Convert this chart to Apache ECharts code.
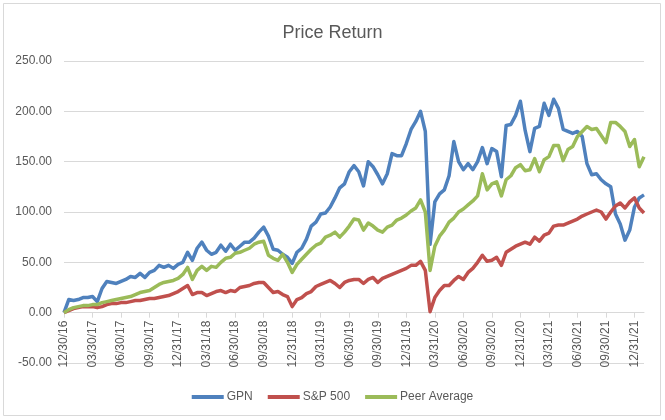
<!DOCTYPE html>
<html><head><meta charset="utf-8">
<script src="https://cdn.jsdelivr.net/npm/echarts@6/dist/echarts.min.js"></script>
<style>html,body{margin:0;padding:0;background:#fff}#c{width:665px;height:420px}</style>
</head><body><div id="c"></div>
<script>
const categories = [
"12/30/16",
"01/15/17","01/31/17","02/15/17","02/28/17","03/15/17","03/30/17","04/15/17","04/30/17","05/15/17","05/31/17","06/15/17","06/30/17",
"07/15/17","07/31/17","08/15/17","08/31/17","09/15/17","09/30/17","10/15/17","10/31/17","11/15/17","11/30/17","12/15/17","12/31/17",
"01/15/18","01/31/18","02/15/18","02/28/18","03/15/18","03/31/18","04/15/18","04/30/18","05/15/18","05/31/18","06/15/18","06/30/18",
"07/15/18","07/31/18","08/15/18","08/31/18","09/15/18","09/30/18","10/15/18","10/31/18","11/15/18","11/30/18","12/15/18","12/31/18",
"01/15/19","01/31/19","02/15/19","02/28/19","03/15/19","03/31/19","04/15/19","04/30/19","05/15/19","05/31/19","06/15/19","06/30/19",
"07/15/19","07/31/19","08/15/19","08/31/19","09/15/19","09/30/19","10/15/19","10/31/19","11/15/19","11/30/19","12/15/19","12/31/19",
"01/15/20","01/31/20","02/15/20","02/29/20","03/15/20","03/31/20","04/15/20","04/30/20","05/15/20","05/31/20","06/15/20","06/30/20",
"07/15/20","07/31/20","08/15/20","08/31/20","09/15/20","09/30/20","10/15/20","10/31/20","11/15/20","11/30/20","12/15/20","12/31/20",
"01/15/21","01/31/21","02/15/21","02/28/21","03/15/21","03/31/21","04/15/21","04/30/21","05/15/21","05/31/21","06/15/21","06/30/21",
"07/15/21","07/31/21","08/15/21","08/31/21","09/15/21","09/30/21","10/15/21","10/31/21","11/15/21","11/30/21","12/15/21","12/31/21",
"01/15/22","01/31/22"
];
const gpn = [
0,
13,12,13,15,15,16,11,24,31,30,29,31,
33,36,35,39,35,40,42,47,45,47,44,48,
50,60,52,64,70,62,58,60,67,61,68,62,
66,70,70,74,80,85,76,63,62,58,55,49,
60,64,73,86,90,98,99,105,114,124,128,140,
146,140,126,150,145,137,128,138,158,156,156,168,
182,190,200,180,68,110,118,122,136,170,150,142,
148,142,150,164,148,163,160,135,186,187,196,210,
181,160,183,185,208,196,212,203,182,180,178,180,
175,148,137,138,132,128,125,98,88,72,82,105,
114,117
];
const sp500 = [
0,
2,4,5,6,6,6,5,6,8,9,9,10,
10,11,12,12,13,14,14,15,16,17,19,21,
24,27,18,20,20,17,19,21,22,20,22,21,
25,26,27,29,30,30,25,20,21,18,16,6,
13,15,19,21,26,28,30,32,29,25,30,32,
33,33,29,33,35,30,34,36,38,40,42,44,
47,47,51,42,1,15,22,27,27,32,36,33,
40,44,50,57,51,52,55,47,60,63,66,68,
70,68,75,71,77,79,86,87,87,89,91,93,
96,98,100,102,100,93,100,106,109,104,110,114,
104,99
];
const peer = [
0,
3,5,6,7,7,8,8,10,11,12,13,14,
15,16,18,20,21,22,25,28,30,31,32,34,
38,45,33,42,46,42,46,45,50,54,55,59,
60,62,64,68,70,71,57,54,52,58,50,40,
48,53,58,63,67,69,75,77,80,75,80,86,
93,92,82,89,86,82,80,85,87,92,94,97,
101,104,112,100,42,66,76,82,90,94,100,103,
107,111,116,138,122,128,130,116,132,136,144,147,
141,142,153,140,152,155,166,166,151,162,165,175,
180,185,182,183,176,169,189,189,185,180,165,172,
145,155
];
const seriesNames = ['GPN', 'S&P 500', 'Peer Average'];
const seriesColors = ['#4F81BD', '#C0504D', '#9BBB59'];
const yMin = -50, yMax = 250, yStep = 50;

const font = "'Liberation Sans', Arial, sans-serif";
const chart = echarts.init(document.getElementById('c'), null, {renderer: 'canvas'});
const values = [gpn, sp500, peer];
const gridTop = 61, gridBottom = 57;
const plotH = 420 - gridTop - gridBottom;
const zeroOffset = -plotH * (0 - yMin) / (yMax - yMin);
chart.setOption({
  animation: false,
  backgroundColor: '#ffffff',
  title: {
    text: 'Price Return', left: 'center', top: 19,
    textStyle: {fontFamily: font, fontSize: 18, fontWeight: 'normal', color: '#595959'}
  },
  legend: {
    top: 386, left: 'center', icon: 'rect', itemWidth: 32, itemHeight: 4, itemGap: 15,
    textStyle: {fontFamily: font, fontSize: 12, color: '#595959', padding: [0, 0, 0, -2]},
    data: seriesNames
  },
  grid: {left: 64, right: 21, top: gridTop, bottom: gridBottom, outerBoundsMode: 'none'},
  xAxis: {
    type: 'category', data: categories, boundaryGap: false, position: 'bottom', offset: zeroOffset,
    axisLine: {onZero: false, lineStyle: {color: '#d9d9d9', width: 1}},
    axisTick: {interval: 5, length: 5, lineStyle: {color: '#d9d9d9'}},
    axisLabel: {interval: 5, rotate: 90, margin: 8, fontFamily: font, fontSize: 12, color: '#595959'},
    splitLine: {show: false}
  },
  yAxis: {
    type: 'value', min: yMin, max: yMax, interval: yStep,
    axisLine: {show: false}, axisTick: {show: false},
    axisLabel: {margin: 12, formatter: v => v.toFixed(2), fontFamily: font, fontSize: 12, color: '#595959'},
    splitLine: {lineStyle: {color: '#d9d9d9', width: 1}}
  },
  series: seriesNames.map((n, k) => ({
    name: n, type: 'line', data: values[k], showSymbol: false, symbol: 'none',
    lineStyle: {color: seriesColors[k], width: 3.5, join: 'round'},
    itemStyle: {color: seriesColors[k]}
  })),
  graphic: [{
    type: 'rect', silent: true,
    shape: {x: 3.5, y: 3.5, width: 657, height: 412},
    style: {fill: null, stroke: '#d9d9d9', lineWidth: 1}
  }]
});
</script>
</body></html>
